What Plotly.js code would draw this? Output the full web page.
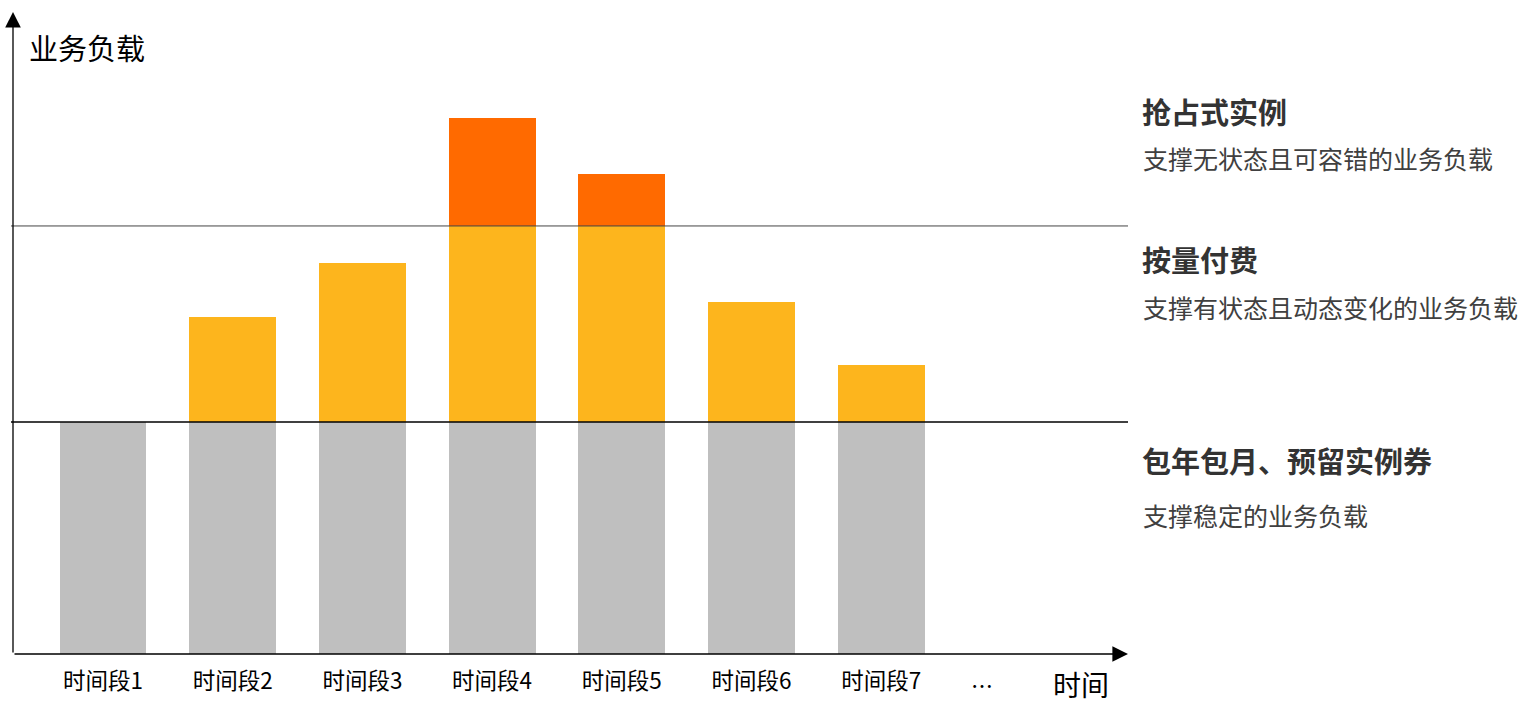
<!DOCTYPE html>
<html>
<head>
<meta charset="utf-8">
<script src="https://cdn.plot.ly/plotly-3.0.1.min.js"></script>
<style>html,body{margin:0;padding:0;background:#fff;}#chart{width:1537px;height:718px;}</style>
</head>
<body>
<div id="chart"></div>
<script>
// ---- data ----
var categories = ["时间段1","时间段2","时间段3","时间段4","时间段5","时间段6","时间段7"];
var positions = [1,2,3,4,5,6,7];
var baseLoad = [100,100,100,100,100,100,100];          // 包年包月、预留实例券
var onDemand = [0,45.3,68.5,84.5,84.5,51.7,24.6];      // 按量付费
var spot = [0,0,0,46.6,22.4,0,0];                     // 抢占式实例
var thresholds = [100,184.5];
var seriesNames = ["包年包月、预留实例券","按量付费","抢占式实例"];
var legendTitles = ["抢占式实例","按量付费","包年包月、预留实例券"];
var legendSubs = ["支撑无状态且可容错的业务负载","支撑有状态且动态变化的业务负载","支撑稳定的业务负载"];
var yTitle = "业务负载";
var xTitle = "时间";
var moreLabel = "…";

// ---- layout helpers (pixel -> paper) ----
var L = 13, R = 1128, T = 15, B = 654;
function px(x){ return (x - L) / (R - L); }
function py(y){ return (B - y) / (B - T); }
var FONT = '"Noto Sans CJK SC","Microsoft YaHei",sans-serif';

var barW = 0.67;
var traces = [
  {type:'bar', x:positions, y:baseLoad, name:seriesNames[0], width:barW, marker:{color:'#BFBFBF'}, hoverinfo:'skip'},
  {type:'bar', x:positions, y:onDemand, name:seriesNames[1], width:barW, marker:{color:'#FDB51D'}, hoverinfo:'skip'},
  {type:'bar', x:positions, y:spot, name:seriesNames[2], width:barW, marker:{color:'#FF6A00'}, hoverinfo:'skip'}
];

var shapes = [
  {type:'line', xref:'paper', yref:'y', x0:px(11), x1:1, y0:thresholds[0], y1:thresholds[0], line:{color:'#000000', width:1.3}, layer:'above'},
  {type:'line', xref:'paper', yref:'y', x0:px(11), x1:1, y0:thresholds[1], y1:thresholds[1], line:{color:'#444444', width:1}, layer:'above'}
];

var annotations = [
  // axis arrows
  {xref:'paper', yref:'paper', x:1, y:0, ax:-(R-L), ay:0, axref:'pixel', ayref:'pixel', text:'', showarrow:true, arrowhead:2, arrowsize:2.4, arrowwidth:1.3, arrowcolor:'#000'},
  {xref:'paper', yref:'paper', x:0, y:py(12), ax:0, ay:(B-12), text:'', showarrow:true, arrowhead:2, arrowsize:2.4, arrowwidth:1.3, arrowcolor:'#000'},
  // axis titles
  {xref:'paper', yref:'paper', x:px(27), y:py(47), xanchor:'left', yanchor:'middle', text:yTitle, showarrow:false, font:{family:FONT, size:29, color:'#000'}},
  {xref:'paper', yref:'paper', x:px(1051), y:py(684), xanchor:'left', yanchor:'middle', text:xTitle, showarrow:false, font:{family:FONT, size:28, color:'#000'}},
  {xref:'paper', yref:'paper', x:px(982), y:py(684), xanchor:'center', yanchor:'middle', text:moreLabel, showarrow:false, font:{family:FONT, size:22, color:'#000'}}
];
var titleY = [111, 259, 460];
var subY = [158, 307, 515];
for (var i = 0; i < legendTitles.length; i++) {
  annotations.push({xref:'paper', yref:'paper', x:px(1140), y:py(titleY[i]), xanchor:'left', yanchor:'middle', text:'<b>'+legendTitles[i]+'</b>', showarrow:false, font:{family:FONT, size:29, color:'#333333'}});
  annotations.push({xref:'paper', yref:'paper', x:px(1141), y:py(subY[i]), xanchor:'left', yanchor:'middle', text:legendSubs[i], showarrow:false, font:{family:FONT, size:25, color:'#404040'}});
}

var layout = {
  width:1537, height:718,
  margin:{l:L, r:1537-R, t:T, b:718-B, pad:0},
  paper_bgcolor:'#fff', plot_bgcolor:'#fff',
  barmode:'stack', bargap:0,
  showlegend:false,
  xaxis:{range:[0.306, 8.903], tickvals:positions, ticktext:categories, showgrid:false, zeroline:false, showline:false, ticks:'', ticklabelstandoff:11, tickfont:{family:FONT, size:22.5, color:'#000'}, fixedrange:true},
  yaxis:{range:[0, 275.43], showgrid:false, zeroline:false, showline:false, showticklabels:false, ticks:'', fixedrange:true},
  shapes:shapes,
  annotations:annotations
};

Plotly.newPlot('chart', traces, layout, {displayModeBar:false, staticPlot:true});
</script>
</body>
</html>
